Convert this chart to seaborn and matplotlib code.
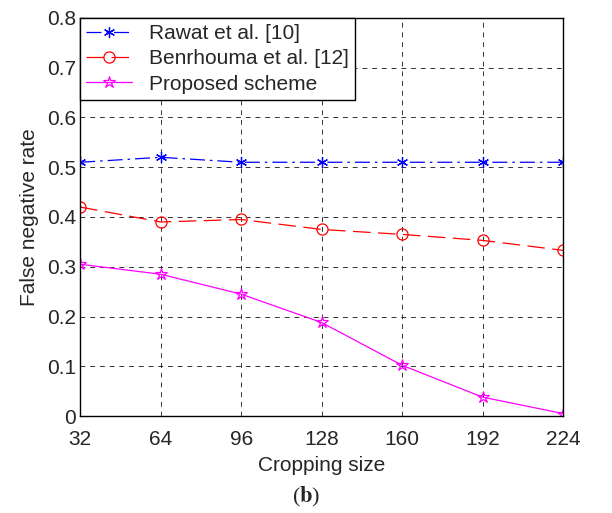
import numpy as np
import pandas as pd
import seaborn as sns
import matplotlib
matplotlib.use("Agg")
import matplotlib.pyplot as plt

# 数据
crop_size = [32, 64, 96, 128, 160, 192, 224]
rawat = [0.51, 0.52, 0.51, 0.51, 0.51, 0.51, 0.51]
benrhouma = [0.42, 0.39, 0.395, 0.375, 0.365, 0.353, 0.333]
proposed = [0.305, 0.285, 0.245, 0.188, 0.102, 0.038, 0.005]
names = ["Rawat et al. [10]", "Benrhouma et al. [12]", "Proposed scheme"]

sns.set_style("white")
plt.rcParams['font.family'] = ['Liberation Sans', 'DejaVu Sans']
plt.rcParams['mathtext.fontset'] = 'stix'

fig = plt.figure(figsize=(6.12, 5.13), dpi=100)
ax = fig.add_axes([0.131, 0.189, 0.789, 0.776])

# 颜色, 标记, 线型, 标记大小
styles = [
    (rawat, "blue", (6, 2, 0), (0, (12, 4, 2, 4)), 8),
    (benrhouma, "red", "o", (0, (14, 6)), 8),
    (proposed, "magenta", "*", "-", 9),
]
for (vals, c, m, ls, ms), name in zip(styles, names):
    df = pd.DataFrame({"x": crop_size, "y": vals})
    sns.lineplot(data=df, x="x", y="y", ax=ax, color=c, marker=m, markersize=ms,
                 markerfacecolor="none", markeredgecolor=c,
                 markeredgewidth=0.9, linewidth=0.9, linestyle=ls, label=name)

ax.set_xlim(32, 224)
ax.set_ylim(0, 0.8)
ax.set_xticks(crop_size)
ax.set_yticks(np.arange(0, 0.81, 0.1))
ax.set_yticklabels(["0", "0.1", "0.2", "0.3", "0.4", "0.5", "0.6", "0.7", "0.8"])
ax.grid(True, color="black", linestyle=(0, (5, 5)), linewidth=0.7, alpha=0.8)
for s in ax.spines.values():
    s.set_color("black")
    s.set_linewidth(1.0)
ax.tick_params(labelsize=15, length=0)
ax.tick_params(axis="x", pad=10)
ax.tick_params(axis="y", pad=3)
ax.set_xlabel("Cropping size", fontsize=15, labelpad=5)
ax.set_ylabel("False negative rate", fontsize=15, labelpad=6)

leg = ax.legend(loc="upper left", fontsize=15, frameon=True, fancybox=False,
                borderaxespad=0, handlelength=2.2, labelspacing=0.3, borderpad=0.3)
leg.get_frame().set_edgecolor("black")
leg.get_frame().set_linewidth(1.0)
leg.get_frame().set_alpha(1)

fig.text(0.5, 0.02, r"($\mathbf{b}$)", ha="center", fontsize=16,
         family=["Liberation Serif", "DejaVu Serif"])

fig.savefig("out.png", dpi=100)
